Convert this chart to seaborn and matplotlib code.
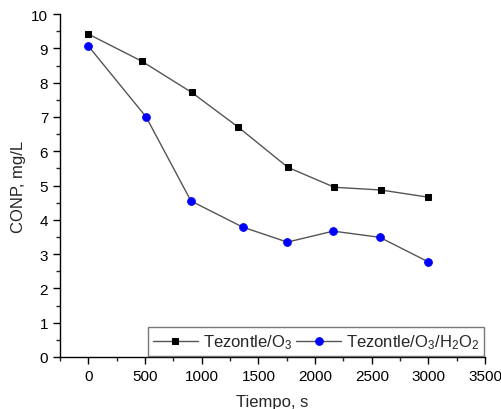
import numpy as np
import pandas as pd
import seaborn as sns
import matplotlib.pyplot as plt
from matplotlib.ticker import MultipleLocator, AutoMinorLocator

# Data
t_o3 = [0, 470, 910, 1320, 1760, 2170, 2580, 3000]
conp_o3 = [9.42, 8.63, 7.72, 6.71, 5.53, 4.95, 4.87, 4.66]
t_h2o2 = [0, 510, 905, 1360, 1755, 2160, 2570, 3000]
conp_h2o2 = [9.07, 7.0, 4.55, 3.79, 3.35, 3.67, 3.49, 2.77]

sns.set_style("ticks")
plt.rcParams['font.family'] = ['Liberation Sans', 'DejaVu Sans']
plt.rcParams['mathtext.default'] = 'regular'

fig = plt.figure(figsize=(5.02, 4.10), dpi=100)
ax = fig.add_axes([0.1195, 0.127, 0.847, 0.836])

sns.lineplot(x=t_o3, y=conp_o3, ax=ax, color='#555555', linewidth=1,
             marker='s', markersize=4.8, markerfacecolor='black',
             markeredgecolor='black', label='Tezontle/O$_3$')
sns.lineplot(x=t_h2o2, y=conp_h2o2, ax=ax, color='#555555', linewidth=1,
             marker='o', markersize=5.5, markerfacecolor='blue',
             markeredgecolor='blue', label='Tezontle/O$_3$/H$_2$O$_2$')

ax.set_xlim(-250, 3500)
ax.set_ylim(0, 10)
ax.xaxis.set_major_locator(MultipleLocator(500))
ax.xaxis.set_minor_locator(AutoMinorLocator(2))
ax.yaxis.set_major_locator(MultipleLocator(1))
ax.yaxis.set_minor_locator(AutoMinorLocator(2))
ax.tick_params(which='major', direction='out', length=5, width=1, labelsize=11, colors='black')
ax.tick_params(which='minor', direction='out', length=3, width=1)
for s in ['top', 'right']:
    ax.spines[s].set_visible(False)
for s in ['left', 'bottom']:
    ax.spines[s].set_color('black')
    ax.spines[s].set_linewidth(1)

ax.set_xlabel('Tiempo, s', fontsize=12, labelpad=8)
ax.set_ylabel('CONP, mg/L', fontsize=12)

leg = ax.legend(loc='lower right', ncol=2, fontsize=12, frameon=True, fancybox=False,
                edgecolor='#555555', handlelength=2.7, columnspacing=0.25,
                handletextpad=0.3, borderpad=0.3, borderaxespad=0.05)
leg.get_frame().set_linewidth(1)

fig.savefig('out.png', dpi=100)
